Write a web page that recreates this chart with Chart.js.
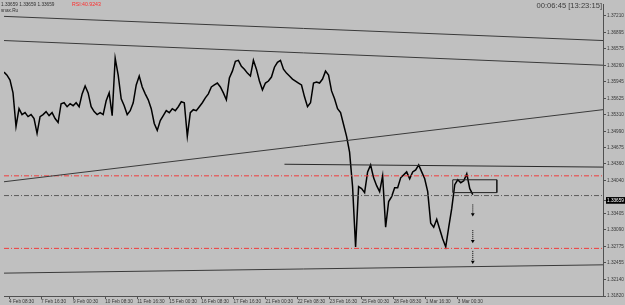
<!DOCTYPE html>
<html>
<head>
<meta charset="utf-8">
<script src="https://cdn.jsdelivr.net/npm/chart.js@4"></script>
<style>
  html, body { margin: 0; padding: 0; background: #c0c0c0; }
  #wrap { width: 625px; height: 305px; position: relative; }
</style>
</head>
<body>
<div id="wrap"><canvas id="chart"></canvas></div>
<script>
// bars are hourly, one value every 3 hours
const STEP_H = 3;
const X_MAX = 598;

const closes = [
  1.36127, 1.36070, 1.35975, 1.35728, 1.35082, 1.35424, 1.35310, 1.35348, 1.35272, 1.35310,
  1.35234, 1.34949, 1.35272, 1.35310, 1.35367, 1.35291, 1.35348, 1.35234, 1.35158, 1.35519,
  1.35538, 1.35462, 1.35519, 1.35481, 1.35538, 1.35462, 1.35709, 1.35861, 1.35728, 1.35462,
  1.35367, 1.35310, 1.35348, 1.35310, 1.35576, 1.35728, 1.35291, 1.36393, 1.36070, 1.35614,
  1.35481, 1.35310, 1.35386, 1.35538, 1.35880, 1.36051, 1.35842, 1.35709, 1.35595, 1.35424,
  1.35139, 1.35006, 1.35196, 1.35291, 1.35386, 1.35348, 1.35424, 1.35386, 1.35462, 1.35557,
  1.35538, 1.34892, 1.35348, 1.35405, 1.35386, 1.35462, 1.35538, 1.35633, 1.35709, 1.35842,
  1.35880, 1.35918, 1.35842, 1.35728, 1.35595, 1.36013, 1.36146, 1.36336, 1.36355, 1.36241,
  1.36184, 1.36108, 1.36051, 1.36355, 1.36184, 1.35956, 1.35785, 1.35918, 1.35956, 1.36032,
  1.36222, 1.36317, 1.36355, 1.36184, 1.36108, 1.36051, 1.35994, 1.35956, 1.35918, 1.35880,
  1.35652, 1.35462, 1.35538, 1.35918, 1.35937, 1.35918, 1.35994, 1.36146, 1.36070, 1.35766,
  1.35614, 1.35424, 1.35348, 1.35120, 1.34892, 1.34588, 1.33923, 1.32764, 1.33923, 1.33885,
  1.33809, 1.34208, 1.34341, 1.34094, 1.33942, 1.33828, 1.34132, 1.33144, 1.33638, 1.33733,
  1.33904, 1.33904, 1.34094, 1.34151, 1.34208, 1.34075, 1.34208, 1.34246, 1.34341, 1.34208,
  1.34075, 1.33828, 1.33220, 1.33144, 1.33296, 1.33106, 1.32916, 1.32764, 1.33144, 1.33505,
  1.33961, 1.34056, 1.33999, 1.34037, 1.34170, 1.33885, 1.33771
];

const timeLabels = ['4 Feb 08:30', '7 Feb 16:30', '9 Feb 00:30', '10 Feb 08:30', '11 Feb 16:30',
  '15 Feb 00:30', '16 Feb 08:30', '17 Feb 16:30', '21 Feb 00:30', '22 Feb 08:30', '23 Feb 16:30',
  '25 Feb 00:30', '28 Feb 08:30', '1 Mar 16:30', '3 Mar 00:30'];
const FIRST_LABEL_H = 5;
const LABEL_EVERY_H = 32;

const priceTicks = [1.37210, 1.36895, 1.36575, 1.36260, 1.35945, 1.35625, 1.35310, 1.34990,
  1.34675, 1.34360, 1.34040, 1.33405, 1.33090, 1.32775, 1.32455, 1.32140, 1.31820];
const PRICE_MIN = 1.31820;
const PRICE_MAX = 1.37438;
const bid = 1.33659;

// drawn objects: [startHour, startPrice, endHour, endPrice]
const channelTop = [0, 1.37200, 598, 1.36735];
const channelLow = [0, 1.36735, 598, 1.36260];
const supportRise = [0, 1.34018, 598, 1.35405];
const bottomLine = [0, 1.32260, 598, 1.32420];
const resistance = [280, 1.34355, 598, 1.34300];
const redLevels = [1.34132, 1.32736];
const grayLevel = 1.33752;
const box = [448, 1.34056, 492, 1.33809];
const arrowHour = 468;
const arrows = [[1.33581, 1.33391], [1.33087, 1.32878], [1.32688, 1.32479]];

const quoteLine = '1.33659 1.33659 1.33659';
const rsiText = 'RSI:40.9243';
const indicatorName = 'snax.Ru';
const clockText = '00:06:45 [13:23:15]';

const FONT = '"Liberation Sans", Arial, sans-serif';

function seg(a, color, dash) {
  return {
    data: [{ x: a[0], y: a[1] }, { x: a[2], y: a[3] }],
    borderColor: color, borderWidth: 1, borderDash: dash || [],
    pointRadius: 0
  };
}

const datasets = [];
datasets.push(seg(channelTop, '#3a3a3a'));
datasets.push(seg(channelLow, '#3a3a3a'));
datasets.push(seg(supportRise, '#3a3a3a'));
datasets.push(seg(bottomLine, '#3a3a3a'));
datasets.push(seg(resistance, '#2a2a2a'));
redLevels.forEach(p => datasets.push(seg([0, p, X_MAX, p], '#f03c3c', [5, 2, 1, 2])));
datasets.push(seg([0, grayLevel, X_MAX, grayLevel], '#5a5a5a', [5, 2, 1, 2]));
datasets.push({
  data: [{ x: box[0], y: box[1] }, { x: box[2], y: box[1] }, { x: box[2], y: box[3] },
         { x: box[0], y: box[3] }, { x: box[0], y: box[1] }],
  borderColor: '#202020', borderWidth: 1, pointRadius: 0
});
arrows.forEach(a => datasets.push({
  data: [{ x: arrowHour, y: a[0] }, { x: arrowHour, y: a[1] }],
  borderColor: '#000', borderWidth: 1, borderDash: [1, 1],
  pointRadius: [0, 2.2], pointStyle: 'triangle', pointRotation: 180,
  backgroundColor: '#000', pointBorderWidth: 0
}));
datasets.push({
  data: closes.map((c, k) => ({ x: k * STEP_H, y: c })),
  borderColor: '#000', borderWidth: 1.5, pointRadius: 0, tension: 0
});

const headerText = {
  id: 'headerText',
  afterDraw(chart) {
    const ctx = chart.ctx;
    ctx.save();
    ctx.textBaseline = 'middle';
    ctx.textAlign = 'left';
    ctx.fillStyle = '#303030';
    ctx.font = '4.7px ' + FONT;
    ctx.fillText(quoteLine, 1, 4.5);
    ctx.fillText(indicatorName, 1, 10.5);
    ctx.fillStyle = '#ff2a2a';
    ctx.font = '5.2px ' + FONT;
    ctx.fillText(rsiText, 72, 4.5);
    ctx.fillStyle = '#3c3c3c';
    ctx.font = '7.6px ' + FONT;
    ctx.textAlign = 'right';
    ctx.fillText(clockText, chart.chartArea.right - 1, 6);
    ctx.restore();
  }
};

new Chart(document.getElementById('chart'), {
  type: 'line',
  data: { datasets: datasets },
  options: {
    responsive: true,
    maintainAspectRatio: false,
    animation: false,
    layout: { padding: 0 },
    plugins: { legend: { display: false }, tooltip: { enabled: false } },
    scales: {
      x: {
        type: 'linear',
        position: 'bottom',
        min: 0,
        max: X_MAX,
        afterBuildTicks: function(scale) {
          scale.ticks = timeLabels.map((_, j) => ({ value: FIRST_LABEL_H + j * LABEL_EVERY_H }));
        },
        afterFit: function(scale) {
          scale.height = 9;
          scale.paddingLeft = 0;
          scale.paddingRight = 0;
        },
        ticks: {
          autoSkip: false,
          maxRotation: 0,
          align: 'start',
          padding: 0,
          color: '#383838',
          font: { family: FONT, size: 4.7, lineHeight: 1 },
          callback: (v, i) => timeLabels[i]
        },
        grid: { drawOnChartArea: false, drawTicks: true, tickLength: 3, color: '#505050' },
        border: { display: true, color: '#505050', width: 1 }
      },
      y: {
        type: 'linear',
        position: 'right',
        min: PRICE_MIN,
        max: PRICE_MAX,
        afterBuildTicks: function(scale) {
          scale.ticks = priceTicks.concat([bid]).sort((a, b) => a - b).map(v => ({ value: v }));
        },
        afterFit: function(scale) {
          scale.width = 22;
          scale.paddingTop = 0;
          scale.paddingBottom = 0;
        },
        ticks: {
          padding: 1,
          color: ctx => (ctx.tick && ctx.tick.value === bid ? '#ffffff' : '#383838'),
          showLabelBackdrop: ctx => !!(ctx.tick && ctx.tick.value === bid),
          backdropColor: '#000000',
          backdropPadding: { top: 1, bottom: 1, left: 1, right: 2 },
          font: { family: FONT, size: 4.7, lineHeight: 1 },
          callback: v => v.toFixed(5)
        },
        grid: { drawOnChartArea: false, drawTicks: true, tickLength: 3, color: '#505050' },
        border: { display: true, color: '#505050', width: 1 }
      }
    }
  },
  plugins: [headerText]
});
</script>
</body>
</html>
